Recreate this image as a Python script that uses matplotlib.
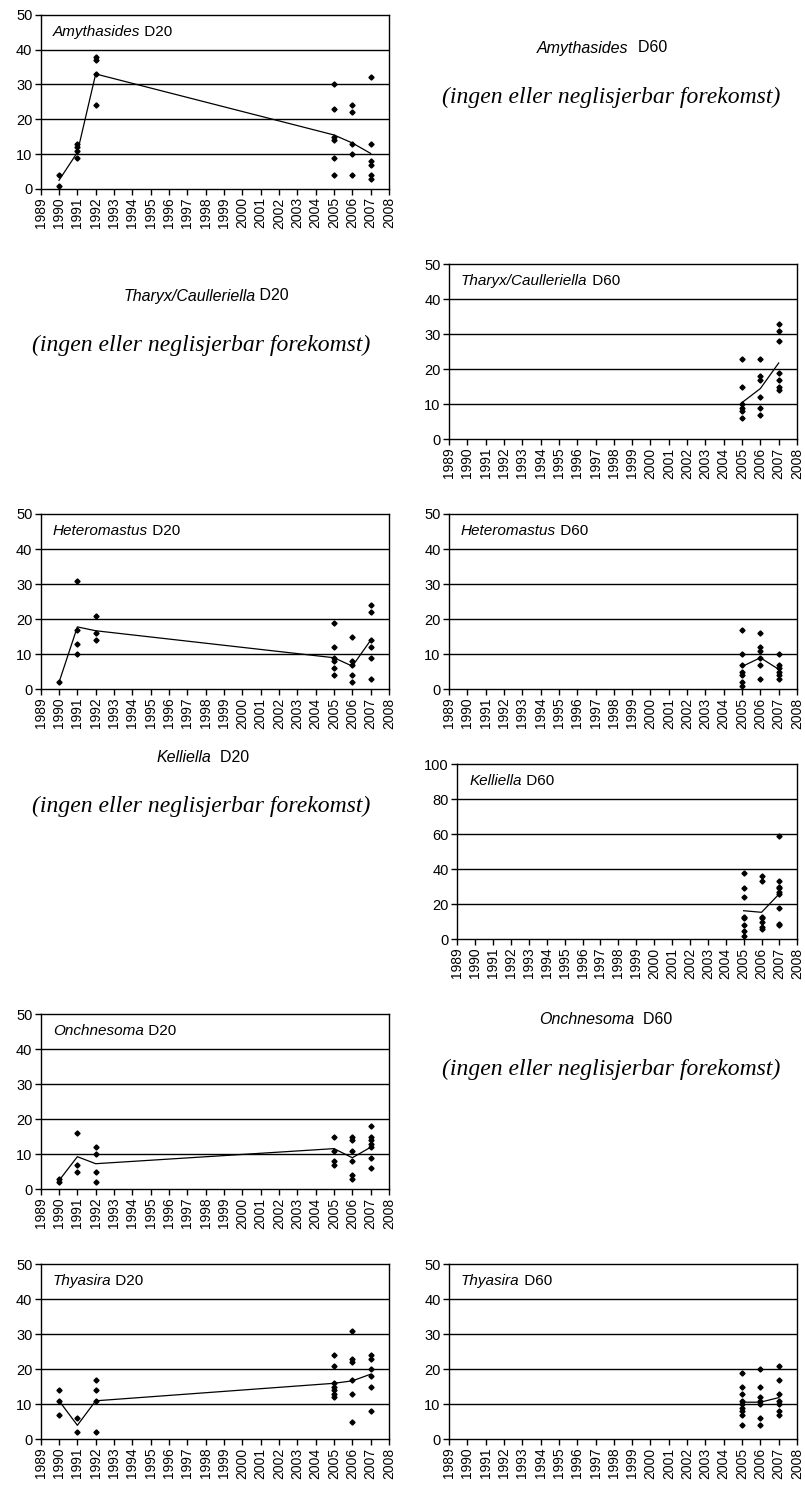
import matplotlib
matplotlib.use("Agg")
import matplotlib.pyplot as plt
from matplotlib.transforms import offset_copy

plt.rcParams['font.family'] = ['Liberation Sans', 'DejaVu Sans']

# ---------------- data ----------------
years_all = list(range(1989, 2009))

# Amythasides D20
amy20_px = [1990, 1990, 1991, 1991, 1991, 1991, 1992, 1992, 1992, 1992,
            2005, 2005, 2005, 2005, 2005, 2005, 2006, 2006, 2006, 2006, 2006,
            2007, 2007, 2007, 2007, 2007, 2007]
amy20_py = [4, 1, 13, 12, 11, 9, 38, 37, 33, 24,
            30, 23, 15, 14, 9, 4, 24, 22, 13, 10, 4,
            32, 13, 8, 7, 4, 3]
amy20_mx = [1990, 1991, 1992, 2005, 2006, 2007]
amy20_my = [2.5, 10.5, 33, 15.5, 13.2, 10.2]

# Tharyx/Caulleriella D60
tha60_px = [2005] * 6 + [2006] * 6 + [2007] * 7
tha60_py = [23, 15, 10, 9, 8, 6,
            23, 18, 17, 12, 9, 7,
            33, 31, 28, 19, 17, 15, 14]
tha60_mx = [2005, 2006, 2007]
tha60_my = [10.5, 14.5, 21.8]

# Heteromastus D20
het20_px = [1990, 1991, 1991, 1991, 1991, 1992, 1992, 1992] + [2005] * 6 + [2006] * 5 + [2007] * 6
het20_py = [2, 31, 17, 13, 10, 21, 16, 14,
            19, 12, 9, 8, 6, 4,
            15, 8, 7, 4, 2,
            24, 22, 14, 12, 9, 3]
het20_mx = [1990, 1991, 1992, 2005, 2006, 2007]
het20_my = [2, 17.8, 16.7, 9, 6.6, 14]

# Heteromastus D60
het60_px = [2005] * 7 + [2006] * 6 + [2007] * 6
het60_py = [17, 10, 7, 5, 4, 2, 1,
            16, 12, 11, 9, 7, 3,
            10, 7, 6, 5, 4, 3]
het60_mx = [2005, 2006, 2007]
het60_my = [6.5, 9, 5.7]

# Kelliella D60
kel60_px = [2005] * 8 + [2006] * 7 + [2007] * 9
kel60_py = [38, 29, 24, 13, 12, 8, 5, 2,
            36, 33, 13, 12, 10, 7, 6,
            59, 33, 30, 29, 27, 26, 18, 9, 8]
kel60_mx = [2005, 2006, 2007]
kel60_my = [16.3, 15.4, 26]

# Onchnesoma D20
onc20_px = [1990, 1990, 1991, 1991, 1991, 1992, 1992, 1992, 1992] + [2005] * 4 + [2006] * 6 + [2007] * 7
onc20_py = [3, 2, 16, 7, 5, 12, 10, 5, 2,
            15, 11, 8, 7,
            15, 14, 11, 8, 4, 3,
            18, 15, 14, 13, 12, 9, 6]
onc20_mx = [1990, 1991, 1992, 2005, 2006, 2007]
onc20_my = [2.5, 9.3, 7.3, 11.6, 9, 12]

# Thyasira D20
thy20_px = [1990, 1990, 1990, 1991, 1991, 1992, 1992, 1992, 1992] + [2005] * 7 + [2006] * 6 + [2007] * 6
thy20_py = [14, 11, 7, 6, 2, 17, 14, 11, 2,
            24, 21, 16, 15, 14, 13, 12,
            31, 23, 22, 17, 13, 5,
            24, 23, 20, 18, 15, 8]
thy20_mx = [1990, 1991, 1992, 2005, 2006, 2007]
thy20_my = [11, 4, 11, 16, 16.7, 18.6]

# Thyasira D60
thy60_px = [2005] * 9 + [2006] * 7 + [2007] * 7
thy60_py = [19, 15, 13, 11, 10, 9, 8, 7, 4,
            20, 15, 12, 11, 10, 6, 4,
            21, 17, 13, 11, 10, 8, 7]
thy60_mx = [2005, 2006, 2007]
thy60_my = [10.6, 10.6, 11.9]

# ---------------- layout ----------------
W, H = 805, 1486
fig = plt.figure(figsize=(W / 100, H / 100), dpi=100)

rows = [(14.7, 189.0), (264.3, 439.3), (514.0, 689.3), (764.0, 939.3), (1014.0, 1189.3), (1264.3, 1439.3)]
LEFT = (40.7, 389.0)
RIGHT = (449.0, 797.0)
NOTE = '(ingen eller neglisjerbar forekomst)'


def make_ax(col, row):
    x0, x1 = col
    t, b = rows[row]
    return fig.add_axes([x0 / W, 1 - b / H, (x1 - x0) / W, (b - t) / H])


def panel(ax, name, depth, px, py, mx, my, ymax=50, ystep=10):
    ax.set_xlim(1989, 2008)
    ax.set_ylim(0, ymax)
    ax.set_xticks(years_all)
    ax.set_xticklabels([str(y) for y in years_all], rotation=90, fontsize=10)
    ax.set_yticks(range(0, ymax + 1, ystep))
    ax.tick_params(axis='y', labelsize=10.5, length=4, width=1, pad=2, direction='out')
    ax.tick_params(axis='x', length=4, width=1, pad=2, direction='out')
    for ytk in range(ystep, ymax, ystep):
        ax.axhline(ytk, color='black', lw=1.0, zorder=1)
    for s in ax.spines.values():
        s.set_linewidth(1.0)
        s.set_color('black')
    ax.plot(mx, my, color='black', lw=0.9, zorder=2)
    ax.plot(px, py, linestyle='none', marker='D', markersize=2.6, color='black', zorder=3)
    tr = offset_copy(ax.transAxes, fig=fig, x=12, y=-17, units='dots')
    t1 = ax.text(0, 1, name, transform=tr, fontsize=11, style='italic', ha='left', va='center')
    ax.annotate(' ' + depth, xy=(1, 0), xycoords=t1, va='bottom', ha='left', fontsize=11)


def placeholder(cx, y_title, y_note, name, depth, note_cx, gap='  ', size=11.5):
    r = fig.canvas.get_renderer()
    a = fig.text(0, 1 - y_title / H, name, fontsize=size, style='italic', ha='left', va='center')
    b = fig.text(0, 1 - y_title / H, gap + depth, fontsize=size, ha='left', va='center')
    wa = a.get_window_extent(r).width
    wb = b.get_window_extent(r).width
    left = cx - (wa + wb) / 2
    a.set_x(left / W)
    b.set_x((left + wa) / W)
    fig.text(note_cx / W, 1 - y_note / H, NOTE, fontsize=17,
             style='italic', family=['Liberation Serif', 'DejaVu Serif'], ha='center', va='center')


panel(make_ax(LEFT, 0), 'Amythasides', 'D20', amy20_px, amy20_py, amy20_mx, amy20_my)
placeholder(602, 48, 97, 'Amythasides', 'D60', 611)

placeholder(206, 296, 345, 'Tharyx/Caulleriella', 'D20', 201, gap=' ')
panel(make_ax(RIGHT, 1), 'Tharyx/Caulleriella', 'D60', tha60_px, tha60_py, tha60_mx, tha60_my)

panel(make_ax(LEFT, 2), 'Heteromastus', 'D20', het20_px, het20_py, het20_mx, het20_my)
panel(make_ax(RIGHT, 2), 'Heteromastus', 'D60', het60_px, het60_py, het60_mx, het60_my)

placeholder(203, 757, 806, 'Kelliella', 'D20', 201)
panel(make_ax((457.3, 797.3), 3), 'Kelliella', 'D60', kel60_px, kel60_py, kel60_mx, kel60_my,
      ymax=100, ystep=20)

panel(make_ax(LEFT, 4), 'Onchnesoma', 'D20', onc20_px, onc20_py, onc20_mx, onc20_my)
placeholder(606, 1019, 1069, 'Onchnesoma', 'D60', 611)

panel(make_ax(LEFT, 5), 'Thyasira', 'D20', thy20_px, thy20_py, thy20_mx, thy20_my)
panel(make_ax(RIGHT, 5), 'Thyasira', 'D60', thy60_px, thy60_py, thy60_mx, thy60_my)

fig.savefig('out.png', dpi=100, facecolor='white')
